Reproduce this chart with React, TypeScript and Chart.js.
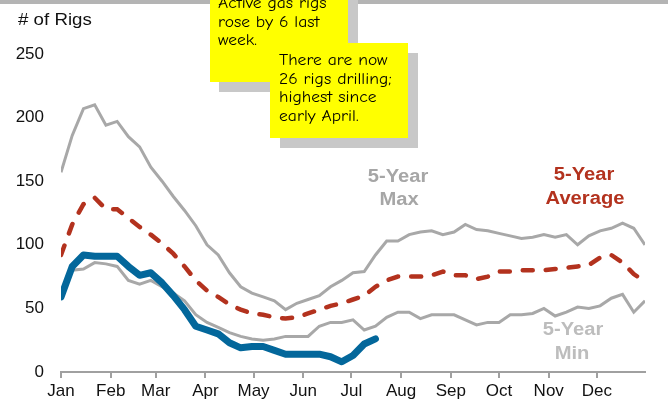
import React, { useEffect, useRef } from "react";
import { Chart, registerables } from "chart.js";

Chart.register(...registerables);

const monthLabels = ["Jan", "Feb", "Mar", "Apr", "May", "Jun", "Jul", "Aug", "Sep", "Oct", "Nov", "Dec"];
const monthStartDays = [0, 31, 59, 90, 120, 151, 181, 212, 243, 273, 304, 334];
const yTicks = [0, 50, 100, 150, 200, 250];

// weekly values, week k at day 7*k
const maxValues = [
  157, 186, 207, 210, 194, 197, 185, 177, 161, 150, 138, 127, 115, 100, 92, 78, 67, 62, 59, 56,
  49, 54, 57, 60, 67, 72, 78, 79, 92, 103, 103, 108, 110, 111, 108, 110, 116, 112, 111, 109,
  107, 105, 106, 108, 106, 108, 100, 107, 111, 113, 117, 113, 100,
];
const avgValues = [
  92, 116, 132, 137, 128, 128, 121, 114, 108, 101, 93, 83, 72, 64, 59, 53, 49, 46, 45, 43,
  42, 43, 46, 49, 52, 54, 57, 60, 67, 72, 75, 75, 75, 76, 79, 76, 76, 73, 75, 79,
  79, 80, 80, 80, 81, 82, 83, 84, 90, 92, 86, 77, 71,
];
const minValues = [
  60, 80, 81, 86, 85, 83, 72, 69, 72, 67, 62, 56, 45, 39, 35, 31, 28, 26, 25, 26,
  28, 28, 28, 36, 39, 39, 41, 33, 36, 43, 47, 47, 42, 45, 45, 45, 41, 37, 39, 39,
  45, 45, 46, 50, 44, 47, 51, 50, 52, 58, 61, 47, 56,
];
const currentValues = [
  59, 83, 92, 91, 91, 91, 83, 76, 78, 70, 60, 49, 36, 33, 30, 23, 19, 20, 20, 17,
  14, 14, 14, 14, 12, 8, 13, 22, 26,
];

const note1Lines = ["Active gas rigs", "rose by 6 last", "week."];
const note2Lines = ["There are now", "26 rigs drilling;", "highest since", "early April."];

const toPoints = (arr: number[]) => arr.map((v, i) => ({ x: i * 7, y: v }));

const SANS = "'Liberation Sans', Arial, Helvetica, sans-serif";
const COMIC = "'Comic Sans MS', 'Comic Neue', 'DejaVu Sans', sans-serif";

function drawStretched(ctx: CanvasRenderingContext2D, text: string, x: number, y: number, sx: number) {
  ctx.save();
  ctx.translate(x, y);
  ctx.scale(sx, 1);
  ctx.fillText(text, 0, 0);
  ctx.restore();
}

const overlayPlugin = {
  id: "overlay",
  afterDraw(chart: any) {
    const ctx: CanvasRenderingContext2D = chart.ctx;
    ctx.save();
    // top frame strip
    ctx.fillStyle = "#b4b4b4";
    ctx.fillRect(0, 0, 668, 4);

    // "# of Rigs"
    ctx.fillStyle = "#111";
    ctx.font = `17px ${SANS}`;
    ctx.textAlign = "left";
    ctx.textBaseline = "alphabetic";
    drawStretched(ctx, "# of Rigs", 18, 25, 1.1);

    // note 1
    ctx.fillStyle = "#c8c8c8";
    ctx.fillRect(219, 0, 139, 92);
    ctx.fillStyle = "#ffff00";
    ctx.fillRect(210, -5, 138, 87);

    ctx.fillStyle = "#000";
    ctx.font = `16px ${COMIC}`;
    ctx.textAlign = "left";
    note1Lines.forEach((t, i) => drawStretched(ctx, t, 218, 8 + i * 18.6, 1.1));

    // note 2
    ctx.fillStyle = "#c8c8c8";
    ctx.fillRect(280, 53, 138, 95);
    ctx.fillStyle = "#ffff00";
    ctx.fillRect(270, 43, 138, 95);
    ctx.fillStyle = "#000";
    note2Lines.forEach((t, i) => drawStretched(ctx, t, 279, 65 + i * 18.6, 1.1));

    // series labels
    ctx.font = `bold 18px ${SANS}`;
    ctx.textAlign = "center";
    ctx.textBaseline = "middle";
    ctx.fillStyle = "#a6a6a6";
    drawStretched(ctx, "5-Year", 398, 177, 1.12);
    drawStretched(ctx, "Max", 399, 200, 1.12);
    ctx.fillStyle = "#b3321e";
    drawStretched(ctx, "5-Year", 584, 175, 1.12);
    drawStretched(ctx, "Average", 585, 199, 1.12);
    ctx.fillStyle = "#bdbdbd";
    drawStretched(ctx, "5-Year", 573, 330, 1.12);
    drawStretched(ctx, "Min", 572, 354, 1.12);
    ctx.restore();
  },
};

export default function App() {
  const canvasRef = useRef<HTMLCanvasElement | null>(null);

  useEffect(() => {
    const canvas = canvasRef.current;
    if (!canvas) return;
    Chart.defaults.font.family = SANS;
    const chart = new Chart(canvas, {
      type: "line",
      data: {
        datasets: [
          {
            label: "5-Year Max",
            data: toPoints(maxValues),
            borderColor: "#a8a8a8",
            borderWidth: 3,
            pointRadius: 0,
            tension: 0,
            order: 3,
          },
          {
            label: "5-Year Min",
            data: toPoints(minValues),
            borderColor: "#a8a8a8",
            borderWidth: 3,
            pointRadius: 0,
            tension: 0,
            order: 3,
          },
          {
            label: "5-Year Average",
            data: toPoints(avgValues),
            borderColor: "#b3321e",
            borderWidth: 4.5,
            borderDash: [10, 13],
            borderCapStyle: "round",
            pointRadius: 0,
            tension: 0,
            order: 2,
          },
          {
            label: "Current",
            data: toPoints(currentValues),
            borderColor: "#03679b",
            borderWidth: 7,
            borderCapStyle: "round",
            borderJoinStyle: "round",
            pointRadius: 0,
            tension: 0,
            order: 1,
          },
        ],
      },
      options: {
        animation: false,
        responsive: false,
        devicePixelRatio: 1,
        layout: { padding: { left: 0, top: 54, right: 23, bottom: 0 } },
        plugins: { legend: { display: false }, tooltip: { enabled: false } },
        scales: {
          x: {
            type: "linear",
            min: 0,
            max: 364,
            afterBuildTicks: (scale: any) => {
              scale.ticks = monthStartDays.map((v) => ({ value: v }));
            },
            afterFit: (scale: any) => {
              scale.height = 28;
            },
            ticks: {
              autoSkip: false,
              maxRotation: 0,
              minRotation: 0,
              padding: 3,
              color: "#111",
              font: { size: 17 },
              callback: (value: any) => {
                const idx = monthStartDays.indexOf(Number(value));
                return idx >= 0 ? monthLabels[idx] : "";
              },
            },
            grid: {
              display: true,
              drawOnChartArea: false,
              drawTicks: true,
              tickLength: 6,
              color: "#a0a0a0",
              lineWidth: 2,
            },
            border: { display: true, color: "#a0a0a0", width: 2 },
          },
          y: {
            min: 0,
            max: 250,
            afterBuildTicks: (scale: any) => {
              scale.ticks = yTicks.map((v) => ({ value: v }));
            },
            afterFit: (scale: any) => {
              scale.width = 61;
            },
            ticks: { padding: 17, color: "#111", font: { size: 17 } },
            grid: { display: false, drawTicks: false },
            border: { display: false },
          },
        },
      },
      plugins: [overlayPlugin],
    } as any);
    return () => chart.destroy();
  }, []);

  return (
    <div style={{ position: "absolute", left: 0, top: 0, width: 668, height: 400, background: "#fff" }}>
      <canvas ref={canvasRef} width={668} height={400} style={{ width: 668, height: 400 }} />
    </div>
  );
}
